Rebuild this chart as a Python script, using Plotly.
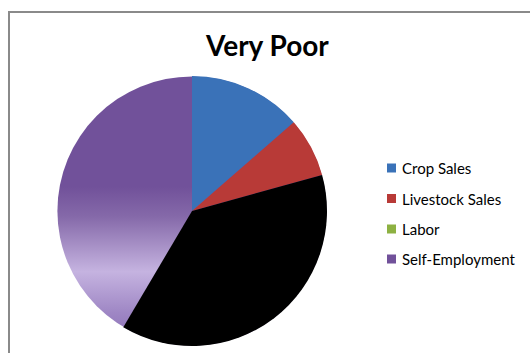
import plotly.graph_objects as go
import base64

labels = ["Crop Sales", "Livestock Sales", "Labor", "Self-Employment"]
values = [13.6, 7.1, 37.8, 41.5]
legend_colors = ["#3A72B8", "#B83A37", "#8DB142", "#71519A"]
slice_colors = ["#3A72B8", "#B83A37", "#000000", "rgba(0,0,0,0)"]
title_text = "Very Poor"

W, H = 530, 353
cx, cy, r = 192, 211, 135

fig = go.Figure()

# gradient disc under pie (shows through the transparent Self-Employment slice)
svg = (
    '<svg xmlns="http://www.w3.org/2000/svg" width="270" height="270" viewBox="0 0 270 270">'
    '<defs><linearGradient id="g" x1="0" y1="0" x2="0" y2="1">'
    '<stop offset="0" stop-color="#71519A"/>'
    '<stop offset="0.41" stop-color="#71519A"/>'
    '<stop offset="0.52" stop-color="#8569A9"/>'
    '<stop offset="0.725" stop-color="#C5B3E0"/>'
    '<stop offset="0.88" stop-color="#9E86C4"/>'
    '<stop offset="1" stop-color="#8A6FB4"/>'
    '</linearGradient></defs>'
    '<circle cx="135" cy="135" r="134.6" fill="url(#g)"/></svg>'
)
uri = "data:image/svg+xml;base64," + base64.b64encode(svg.encode()).decode()

fig.add_trace(go.Pie(
    labels=labels, values=values, sort=False, direction="clockwise", rotation=0,
    marker=dict(colors=slice_colors, line=dict(width=0)),
    textinfo="none", hoverinfo="label+percent", showlegend=False,
    domain=dict(x=[(cx - r) / W, (cx + r) / W], y=[1 - (cy + r) / H, 1 - (cy - r) / H]),
))

shapes = [dict(type="rect", xref="paper", yref="paper",
               x0=9 / W, x1=1.05, y0=-0.05, y1=1 - 12 / H,
               line=dict(color="#8A8A8A", width=2), fillcolor="rgba(0,0,0,0)", layer="below")]
annotations = [dict(text=f"<b>{title_text}</b>", x=267 / W, y=1 - 45 / H, xref="paper", yref="paper",
                    showarrow=False, font=dict(family="Lato", size=28, color="#000000"),
                    xanchor="center", yanchor="middle")]
ys = [168, 198.5, 229, 259]
for lab, col, yy in zip(labels, legend_colors, ys):
    shapes.append(dict(type="rect", xref="paper", yref="paper",
                       x0=387 / W, x1=396 / W, y0=1 - (yy + 4.5) / H, y1=1 - (yy - 4.5) / H,
                       fillcolor=col, line=dict(width=0)))
    annotations.append(dict(text=lab, x=400 / W, y=1 - yy / H, xref="paper", yref="paper",
                            showarrow=False, xanchor="left", yanchor="middle",
                            font=dict(family="Lato", size=15, color="#000000")))

fig.update_layout(
    width=W, height=H, margin=dict(l=0, r=0, t=0, b=0),
    paper_bgcolor="white", plot_bgcolor="white",
    shapes=shapes, annotations=annotations,
    images=[dict(source=uri, xref="paper", yref="paper", x=(cx - r) / W, y=1 - (cy - r) / H,
                 sizex=2 * r / W, sizey=2 * r / H, xanchor="left", yanchor="top",
                 sizing="stretch", layer="below")],
)
fig.write_html("out.html")
